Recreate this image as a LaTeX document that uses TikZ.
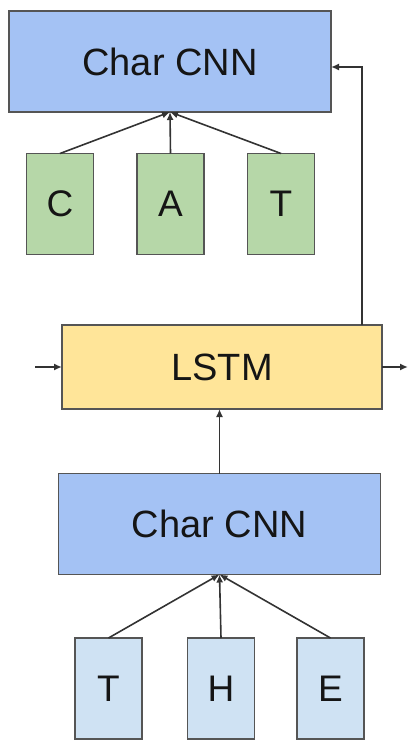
\documentclass[tikz,border=0pt]{standalone}
\usepackage{fontspec}
\setmainfont{Liberation Sans}
\usetikzlibrary{arrows.meta}
\definecolor{cnnblue}{HTML}{A4C2F4}
\definecolor{catgreen}{HTML}{B6D7A8}
\definecolor{lstmyellow}{HTML}{FFE599}
\definecolor{theblue}{HTML}{CFE2F3}
\definecolor{edge}{HTML}{555555}
\definecolor{txt}{HTML}{151515}
\tikzset{
  box/.style={draw=edge, line width=1.6pt, inner sep=0pt, outer sep=0pt, text=txt},
  bigbox/.style={box, minimum width=322pt, minimum height=101pt, font=\fontsize{38}{42}\selectfont},
  charbox/.style={box, minimum width=67pt, minimum height=101pt, font=\fontsize{37}{40}\selectfont},
  arr/.style={draw=black!80, line width=1.6pt, -{Latex[length=8pt,width=7pt]}},
}
\begin{document}
\begin{tikzpicture}[x=1pt,y=-1pt]
\useasboundingbox (0,0) rectangle (419,751);
\node[bigbox, fill=cnnblue] (cnn1) at (170,61.5) {Char CNN};
\node[charbox, fill=catgreen] (c) at (60,204) {C};
\node[charbox, fill=catgreen] (a) at (170.5,204) {A};
\node[charbox, fill=catgreen] (t1) at (281,204) {T};
\node[box, fill=lstmyellow, minimum width=320pt, minimum height=84pt, font=\fontsize{38}{42}\selectfont] (lstm) at (222,367) {LSTM};
\node[bigbox, fill=cnnblue] (cnn2) at (219.5,524) {Char CNN};
\node[charbox, fill=theblue] (t2) at (108.5,688.5) {T};
\node[charbox, fill=theblue] (h) at (221,688.5) {H};
\node[charbox, fill=theblue] (e) at (330.5,688.5) {E};
\coordinate (fb) at (362,67);
\coordinate (in) at (35,367);
\coordinate (out) at (408,367);
\draw[arr] (c.north) -- (cnn1.south);
\draw[arr] (a.north) -- (cnn1.south);
\draw[arr] (t1.north) -- (cnn1.south);
\draw[arr] (t2.north) -- (cnn2.south);
\draw[arr] (h.north) -- (cnn2.south);
\draw[arr] (e.north) -- (cnn2.south);
\draw[arr] (cnn2.north) -- (cnn2.north |- lstm.south);
\draw[arr] (lstm.north -| fb) -- (fb) -- (cnn1.east |- fb);
\draw[arr] (in) -- (lstm.west);
\draw[arr] (lstm.east) -- (out);
\end{tikzpicture}
\end{document}
